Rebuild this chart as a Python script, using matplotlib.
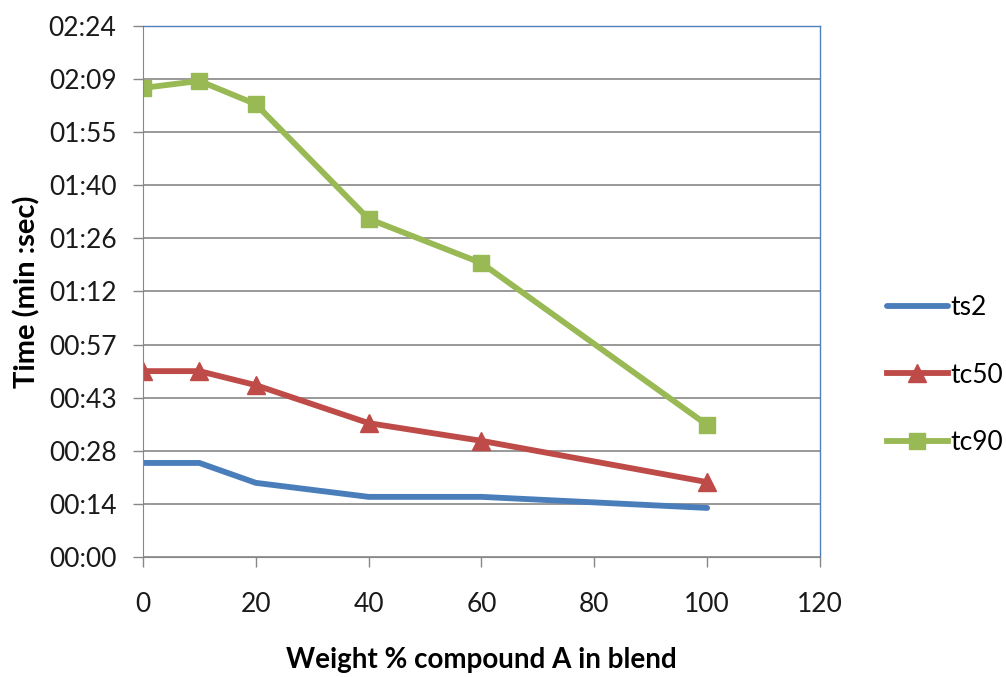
import matplotlib.pyplot as plt

# blend composition (wt % of compound A)
weight_pct = [0, 10, 20, 40, 60, 100]

# cure times in seconds
ts2 = [25.5, 25.5, 20.1, 16.3, 16.3, 13.3]
tc50 = [50.4, 50.4, 46.6, 36.3, 31.5, 20.3]
tc90 = [127.2, 129.1, 122.8, 91.7, 79.7, 35.8]

# y ticks every 14.4 s, labelled mm:ss
y_ticks = [0, 14.4, 28.8, 43.2, 57.6, 72, 86.4, 100.8, 115.2, 129.6, 144]
y_labels = ['00:00', '00:14', '00:28', '00:43', '00:57', '01:12',
            '01:26', '01:40', '01:55', '02:09', '02:24']
x_ticks = [0, 20, 40, 60, 80, 100, 120]


def main():
    plt.rcParams['font.family'] = ['Lato', 'DejaVu Sans']

    fig = plt.figure(figsize=(10.06, 6.77), dpi=100)
    ax = fig.add_axes([0.1421, 0.1773, 0.6730, 0.7843])

    ax.plot(weight_pct, ts2, color='#4A7EBB', lw=4.2, label='ts2',
            solid_capstyle='round')
    ax.plot(weight_pct, tc50, color='#BE4B48', lw=4.2, marker='^',
            markersize=13, label='tc50')
    ax.plot(weight_pct, tc90, color='#98B954', lw=4.2, marker='s',
            markersize=12, label='tc90')

    ax.set_xlim(0, 120)
    ax.set_ylim(0, 144)
    ax.set_xticks(x_ticks)
    ax.set_yticks(y_ticks)
    ax.set_yticklabels(y_labels)
    ax.tick_params(labelsize=19, length=7, width=1, color='#878787', direction='out',
                   labelcolor='#1a1a1a')
    ax.tick_params(axis='x', pad=18)
    ax.tick_params(axis='y', pad=12)
    ax.yaxis.grid(True, color='#878787', lw=1.2)
    ax.set_axisbelow(True)

    for s in ('left', 'bottom'):
        ax.spines[s].set_color('#878787')
    for s in ('top', 'right'):
        ax.spines[s].set_color('#4F81BD')
        ax.spines[s].set_linewidth(1)

    ax.set_xlabel('Weight % compound A in blend', fontsize=20, fontweight='bold',
                  labelpad=22)
    ax.set_ylabel('Time (min :sec)', fontsize=21, fontweight='bold', labelpad=6)

    fig.legend(loc='center left', bbox_to_anchor=(0.8817, 0.446), frameon=False,
               fontsize=19, handlelength=2.3, handletextpad=0.1, labelspacing=1.6,
               borderpad=0, borderaxespad=0)

    fig.savefig('out.png', dpi=100)


if __name__ == "__main__":
    main()
